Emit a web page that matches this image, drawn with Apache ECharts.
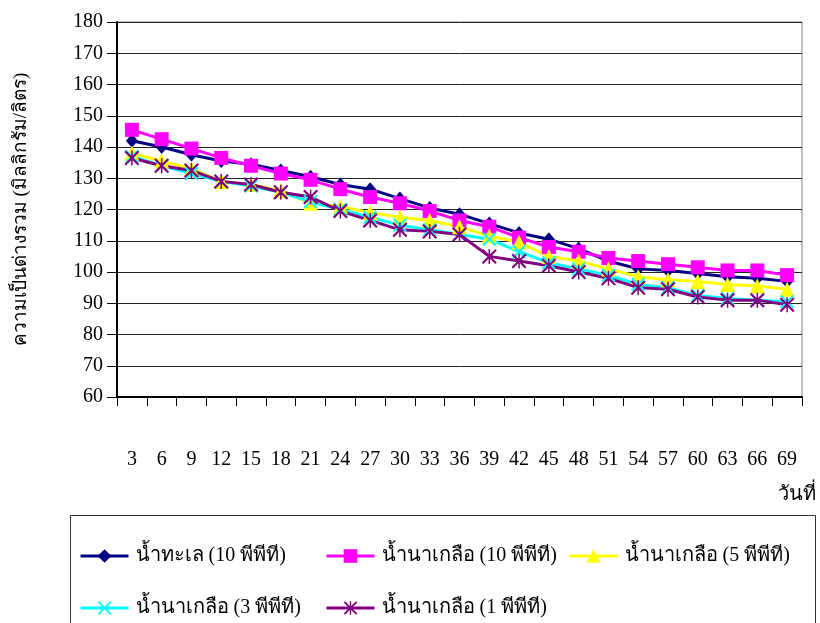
<!DOCTYPE html>
<html>
<head>
<meta charset="utf-8">
<script src="https://cdn.jsdelivr.net/npm/echarts@6/dist/echarts.min.js"></script>
<style>
  html, body { margin: 0; padding: 0; background: #fff; }
  #chart { width: 820px; height: 623px; }
</style>
</head>
<body>
<div id="chart"></div>
<script>
// Sampling days
const days = ['3','6','9','12','15','18','21','24','27','30','33','36','39','42','45','48','51','54','57','60','63','66','69'];

// Total alkalinity (mg/L) for each water source
const seaWater10 = [142, 140, 137.5, 135.5, 134.5, 132.5, 130.5, 128, 126.5, 123.5, 120.5, 118.5, 115.5, 112.5, 110.5, 107.5, 103.5, 101, 100.5, 99.5, 98.5, 98, 97];
const saltFarm10 = [145.5, 142.5, 139.5, 136.5, 134, 131.5, 129.5, 126.5, 124, 122, 119.5, 116.5, 114.5, 111, 108, 106.5, 104.5, 103.5, 102.5, 101.5, 100.5, 100.5, 99];
const saltFarm5  = [138, 135.5, 133, 129, 128, 126, 122, 121, 119, 117.5, 116.5, 114.5, 111.5, 109.5, 105, 103.5, 101, 98.5, 97.5, 97, 96, 95.5, 94.5];
const saltFarm3  = [137, 134, 131.5, 129, 127.5, 125.5, 122.5, 120, 117.5, 115, 113.5, 112, 110.5, 106.5, 103, 101, 99, 96, 95, 92.5, 91.5, 91, 90.5];
const saltFarm1  = [136.5, 134, 132.5, 129, 128, 125.5, 124, 119.5, 116.5, 113.5, 113, 112, 105, 103.5, 102, 100, 98, 95, 94.5, 92, 91, 91, 89.5];

const seriesNames = [
  'น้ำทะเล (10 พีพีที)',
  'น้ำนาเกลือ (10 พีพีที)',
  'น้ำนาเกลือ (5 พีพีที)',
  'น้ำนาเกลือ (3 พีพีที)',
  'น้ำนาเกลือ (1 พีพีที)'
];

// Value axis range and step
const yMin = 60, yMax = 180, yStep = 10;

const FONT = "'Liberation Serif', 'DejaVu Serif', serif";

// Filled outlines for the cross and asterisk markers
const crossPath = 'path://M0,10 L10,0 L100,90 L90,100 Z M90,0 L100,10 L10,100 L0,90 Z';
const starPath = 'path://M0,10 L10,0 L100,90 L90,100 Z M90,0 L100,10 L10,100 L0,90 Z M45,0 L55,0 L55,100 L45,100 Z';

function lineSeries(name, data, color, symbol, size) {
  return {
    name: name,
    type: 'line',
    data: data,
    symbol: symbol,
    symbolSize: size,
    showAllSymbol: true,
    animation: false,
    lineStyle: { color: color, width: 3 },
    itemStyle: { color: color, borderWidth: 0 }
  };
}

// One legend block per entry so the columns line up
const legendSlots = [
  { left: 74, top: 541 }, { left: 320, top: 541 }, { left: 563, top: 541 },
  { left: 74, top: 593 }, { left: 320, top: 593 }
];
const legends = seriesNames.map(function (name, i) {
  return {
    data: [name],
    left: legendSlots[i].left, top: legendSlots[i].top,
    itemWidth: 48, itemHeight: 17, itemGap: 0,
    lineStyle: { width: 3 },
    textStyle: { color: '#000', fontFamily: FONT, fontSize: 20, padding: [0, 0, 0, 2] }
  };
});

const chart = echarts.init(document.getElementById('chart'));
chart.setOption({
  backgroundColor: '#fff',
  animation: false,
  grid: {
    left: 117, right: 18, top: 22, bottom: 226,
    show: true, borderColor: '#808080', borderWidth: 1
  },
  xAxis: {
    type: 'category',
    data: days,
    boundaryGap: true,
    axisLine: { lineStyle: { color: '#000', width: 2 } },
    axisTick: { show: true, length: 9, lineStyle: { color: '#000', width: 1 } },
    axisLabel: { color: '#000', fontFamily: FONT, fontSize: 20, margin: 53, interval: 0 },
    splitLine: { show: false }
  },
  yAxis: {
    type: 'value',
    min: yMin, max: yMax, interval: yStep,
    name: 'ความเป็นด่างรวม (มิลลิกรัม/ลิตร)',
    nameLocation: 'middle',
    nameGap: 86,
    nameRotate: 90,
    nameTextStyle: { color: '#000', fontFamily: FONT, fontSize: 19 },
    axisLine: { show: true, lineStyle: { color: '#000', width: 2 } },
    axisTick: { show: true, length: 10, lineStyle: { color: '#000', width: 1 } },
    axisLabel: { color: '#000', fontFamily: FONT, fontSize: 20, margin: 14 },
    splitLine: { show: true, lineStyle: { color: '#222', width: 1 } }
  },
  legend: legends,
  graphic: [
    {
      type: 'rect',
      shape: { x: 70.5, y: 515.5, width: 745, height: 130 },
      style: { fill: 'none', stroke: '#333', lineWidth: 1 },
      silent: true
    },
    {
      type: 'text',
      right: 4, top: 485,
      style: { text: 'วันที่', fill: '#000', font: '20px ' + FONT }
    }
  ],
  series: [
    lineSeries(seriesNames[0], seaWater10, '#000080', 'diamond', [12, 14]),
    lineSeries(seriesNames[1], saltFarm10, '#FF00FF', 'rect', 14),
    lineSeries(seriesNames[2], saltFarm5, '#FFFF00', 'triangle', 15),
    lineSeries(seriesNames[3], saltFarm3, '#00FFFF', crossPath, 14),
    lineSeries(seriesNames[4], saltFarm1, '#800080', starPath, 15)
  ]
});
</script>
</body>
</html>
